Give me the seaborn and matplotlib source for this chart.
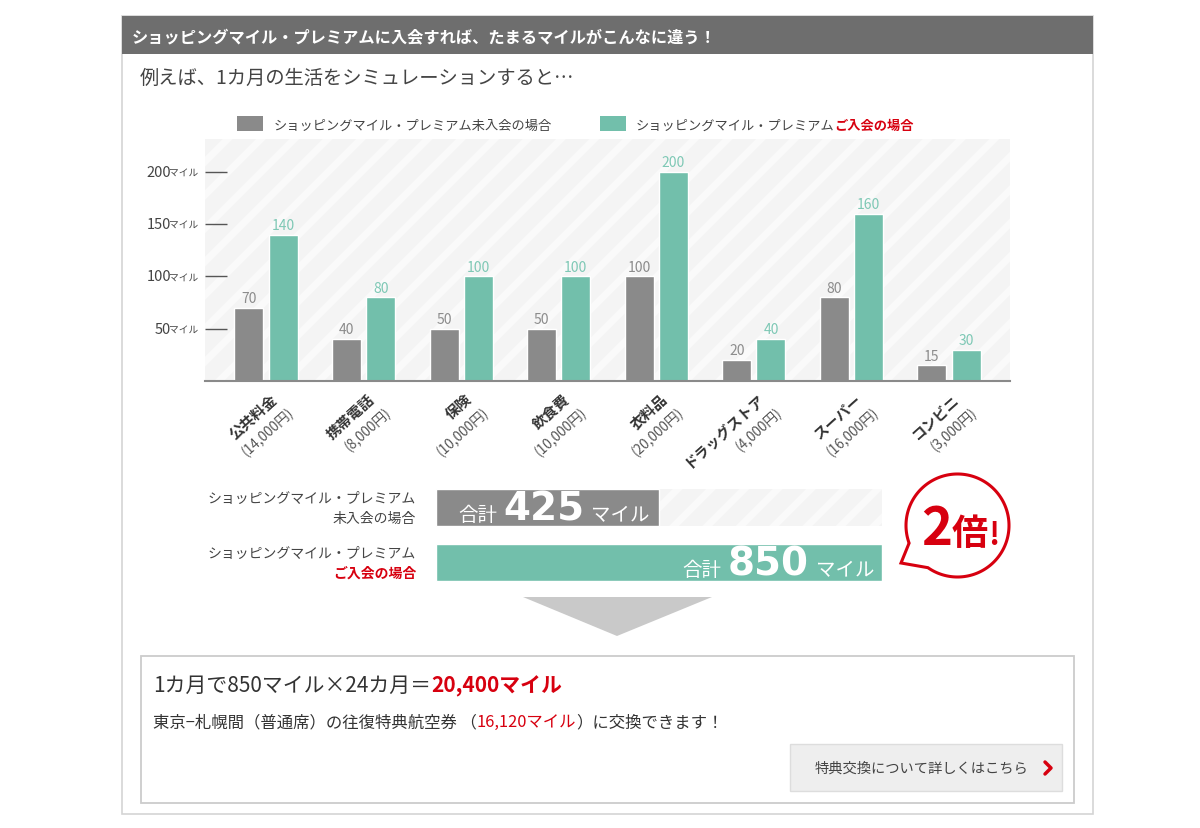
import numpy as np
import matplotlib
matplotlib.use('Agg')
import matplotlib.pyplot as plt
import matplotlib.transforms as mtransforms
from matplotlib.patches import Rectangle, Polygon
from matplotlib.lines import Line2D
import pandas as pd
import seaborn as sns

# data
categories = ['公共料金', '携帯電話', '保険', '飲食費', '衣料品', 'ドラッグストア', 'スーパー', 'コンビニ']
spend_labels = ['(14,000円)', '(8,000円)', '(10,000円)', '(10,000円)', '(20,000円)', '(4,000円)', '(16,000円)', '(3,000円)']
miles_non_member = [70, 40, 50, 50, 100, 20, 80, 15]
miles_member = [140, 80, 100, 100, 200, 40, 160, 30]
series_names = ['ショッピングマイル・プレミアム未入会の場合', 'ショッピングマイル・プレミアムご入会の場合']
y_ticks = [50, 100, 150, 200]
total_rows = ['未入会', 'ご入会']
totals = [sum(miles_non_member), sum(miles_member)]

GRAY = '#8a8a8a'
TEAL = '#72bfab'
RED = '#d7000f'

sns.set_theme(style='white')
plt.rcParams['font.family'] = ['Noto Sans CJK JP', 'DejaVu Sans']
plt.rcParams['hatch.linewidth'] = 5

W, H = 1200, 829
fig = plt.figure(figsize=(W / 100, H / 100), dpi=100)
fig.patch.set_facecolor('white')
# pixel coords, y down
PIX = mtransforms.Affine2D().scale(1, -1).translate(0, H)
renderer = fig.canvas.get_renderer()


def row(parts, x, y, ha='left'):
    # parts: (text, kwargs) or (text, kwargs, gap after in px)
    ts, gaps = [], []
    for p in parts:
        ts.append(fig.text(0, 0, p[0], transform=PIX, va='baseline', ha='left', **p[1]))
        gaps.append(p[2] if len(p) > 2 else 0)
    ws = [t.get_window_extent(renderer).width + g for t, g in zip(ts, gaps)]
    if ha == 'right':
        x -= sum(ws)
    elif ha == 'center':
        x -= sum(ws) / 2
    for t, w in zip(ts, ws):
        t.set_position((x, y))
        x += w
    return ts


# frame + header
fig.add_artist(Rectangle((122, 17), 971, 798, transform=PIX, facecolor='none', edgecolor='#d4d4d4', lw=1.2))
fig.add_artist(Rectangle((122, 17), 971, 38, transform=PIX, facecolor='#6e6e6e', edgecolor='none'))
fig.text(132, 42, 'ショッピングマイル・プレミアムに入会すれば、たまるマイルがこんなに違う！', transform=PIX,
         color='white', fontsize=11.7, fontweight='bold', va='baseline')
fig.text(140, 84, '例えば、1カ月の生活をシミュレーションすると…', transform=PIX,
         color='#444444', fontsize=13.9, va='baseline')

# legend
fig.add_artist(Rectangle((237, 117), 26, 15, transform=PIX, facecolor=GRAY, edgecolor='none'))
row([(series_names[0], dict(color='#444444', fontsize=9.5))], 274, 130)
fig.add_artist(Rectangle((600, 117), 26, 15, transform=PIX, facecolor=TEAL, edgecolor='none'))
row([('ショッピングマイル・プレミアム', dict(color='#444444', fontsize=9.5)),
     ('ご入会の場合', dict(color=RED, fontsize=9.5, fontweight='bold'))], 636, 130)

# main bar chart
df = pd.DataFrame({
    'cat': categories * 2,
    'miles': miles_non_member + miles_member,
    'member': [series_names[0]] * len(categories) + [series_names[1]] * len(categories),
})
ax = fig.add_axes([205 / W, 1 - 382 / H, 805 / W, 242 / H])
ax.set_facecolor('#f4f4f4')
ax.add_patch(Rectangle((0, 0), 1, 1, transform=ax.transAxes, facecolor='#f4f4f4',
                       edgecolor='#fafafa', hatch='/', lw=0, zorder=0))
sns.barplot(data=df, x='cat', y='miles', hue='member', palette=[GRAY, TEAL], saturation=1,
            width=0.7, gap=0.15, legend=False, ax=ax, zorder=2)
ax.set_xlim(-0.625, 7.625)
ax.set_ylim(0, 231.4)
ax.set(xlabel='', ylabel='')
for sp in ['left', 'top', 'right']:
    ax.spines[sp].set_visible(False)
ax.spines['bottom'].set_color('#8a8a8a')
ax.spines['bottom'].set_linewidth(1.5)
ax.set_xticks(range(len(categories)), labels=[''] * len(categories))
ax.tick_params(axis='x', length=0)
ax.set_yticks(y_ticks, labels=[''] * len(y_ticks))
ax.tick_params(axis='y', direction='in', length=16, width=1, colors='#555555', left=True)

ax.bar_label(ax.containers[0], labels=[str(v) for v in miles_non_member], padding=2,
             color='#8c8c8c', fontsize=10)
ax.bar_label(ax.containers[1], labels=[str(v) for v in miles_member], padding=2,
             color='#7ec8b5', fontsize=10)

for v in y_ticks:
    ax.annotate('マイル', xy=(0, v), xycoords=('axes fraction', 'data'), xytext=(-7, 0),
                textcoords='offset pixels', ha='right', va='center', fontsize=7, color='#444444')
    ax.annotate(str(v), xy=(0, v), xycoords=('axes fraction', 'data'), xytext=(-34, 0),
                textcoords='offset pixels', ha='right', va='center', fontsize=10.5, color='#444444')

for i, (name, yen) in enumerate(zip(categories, spend_labels)):
    ax.annotate(name, xy=(i, 0), xycoords=('data', 'axes fraction'), xytext=(3, -9),
                textcoords='offset pixels', rotation=42, rotation_mode='anchor', ha='right', va='top',
                fontsize=10.5, fontweight='bold', color='#333333')
    ax.annotate(yen, xy=(i, 0), xycoords=('data', 'axes fraction'), xytext=(21, -23),
                textcoords='offset pixels', rotation=42, rotation_mode='anchor', ha='right', va='top',
                fontsize=9.8, color='#555555')

# totals
ax2 = fig.add_axes([436 / W, 1 - 591 / H, 446 / W, 110 / H])
ax2.add_patch(Rectangle((0, -0.3365), 850, 0.673, facecolor='#f4f4f4', edgecolor='#fafafa',
                        hatch='/', lw=0, zorder=0))
sns.barplot(x=totals, y=total_rows, hue=total_rows, palette=[GRAY, TEAL], saturation=1,
            width=0.673, orient='h', legend=False, ax=ax2, zorder=2)
ax2.set_xlim(0, 850)
ax2.set_ylim(1.5, -0.5)
ax2.axis('off')

row([('ショッピングマイル・プレミアム', dict(color='#444444', fontsize=10))], 416, 503, ha='right')
row([('未入会の場合', dict(color='#444444', fontsize=10))], 416, 523, ha='right')
row([('ショッピングマイル・プレミアム', dict(color='#444444', fontsize=10))], 416, 558, ha='right')
row([('ご入会の場合', dict(color=RED, fontsize=10, fontweight='bold'))], 416, 578, ha='right')

big = dict(color='white', fontsize=28, fontweight='bold', family='DejaVu Sans')
small = dict(color='white', fontsize=14)
row([('合計', small, 6), (f'{totals[0]}', big, 7), ('マイル', small)], 458, 521)
row([('合計', small, 6), (f'{totals[1]}', big, 7), ('マイル', small)], 874, 576, ha='right')

# speech bubble
cx, cy, r = 957.5, 526.5, 51.5
th = np.radians(np.linspace(160, 125 + 360, 200))
pts = np.column_stack([cx + r * np.cos(th), cy + r * np.sin(th)])
pts = np.vstack([pts, [[901, 564]]])
fig.add_artist(Polygon(pts, closed=True, transform=PIX, facecolor='white', edgecolor=RED, lw=2.2))
row([('2', dict(color=RED, fontsize=38, fontweight='bold')),
     ('倍', dict(color=RED, fontsize=26, fontweight='bold')),
     ('!', dict(color=RED, fontsize=22, fontweight='bold'))], 960, 545, ha='center')

# arrow
fig.add_artist(Polygon([(523, 598), (712, 598), (617, 637)], closed=True, transform=PIX,
                       facecolor='#c9c9c9', edgecolor='none'))

# bottom box
fig.add_artist(Rectangle((141, 657), 933, 147, transform=PIX, facecolor='white', edgecolor='#cccccc', lw=1.3))
row([('1カ月で850マイル×24カ月＝', dict(color='#333333', fontsize=15)),
     ('20,400マイル', dict(color=RED, fontsize=15, fontweight='bold'))], 153, 692)
row([('東京−札幌間（普通席）の往復特典航空券 （', dict(color='#333333', fontsize=11.8)),
     ('16,120マイル', dict(color=RED, fontsize=11.8)),
     ('）に交換できます！', dict(color='#333333', fontsize=11.8))], 153, 727)

fig.add_artist(Rectangle((790, 745), 272, 47, transform=PIX, facecolor='#eeeeee', edgecolor='#dddddd', lw=1))
row([('特典交換について詳しくはこちら', dict(color='#444444', fontsize=10.3))], 815, 773)
fig.add_artist(Line2D([1045, 1051, 1045], [763, 769, 775], transform=PIX, color=RED, lw=2.5))

fig.savefig('out.png', dpi=100)
